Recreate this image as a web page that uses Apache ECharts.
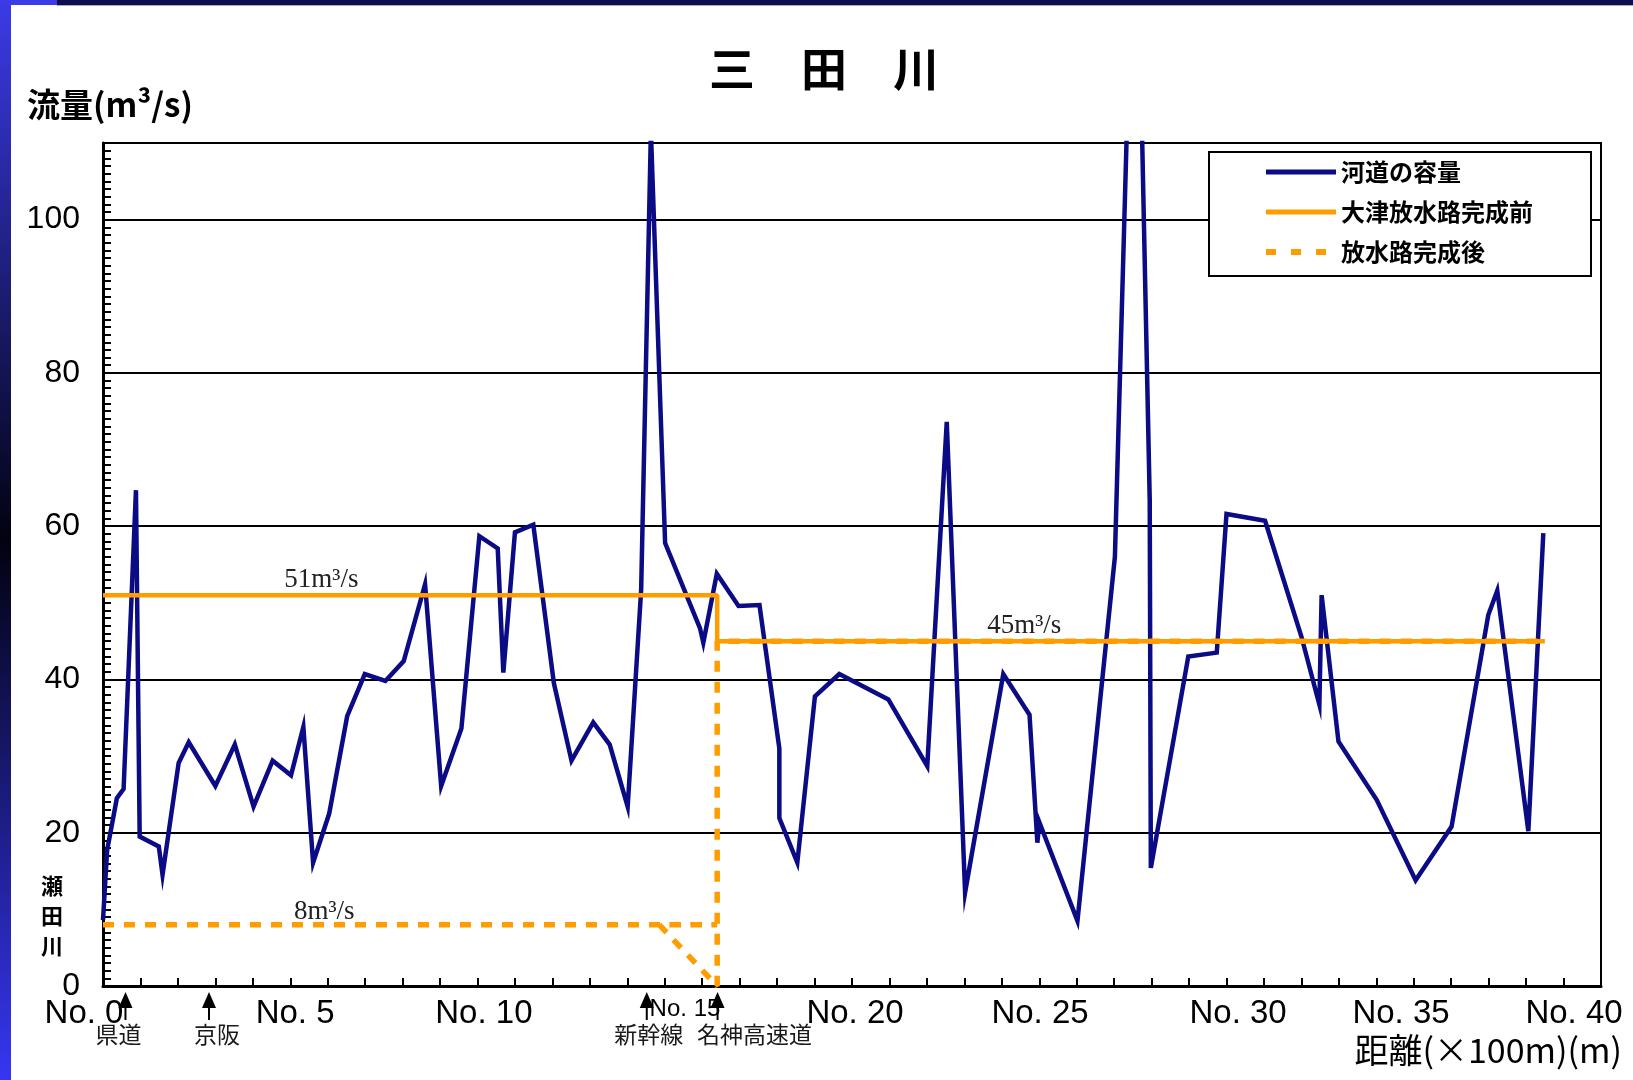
<!DOCTYPE html>
<html>
<head>
<meta charset="utf-8">
<script src="https://cdn.jsdelivr.net/npm/echarts@6/dist/echarts.min.js"></script>
<style>
  html, body { margin: 0; padding: 0; background: #fff; }
  #chart { width: 1633px; height: 1080px; }
</style>
</head>
<body>
<div id="chart"></div>
<script>
// Channel capacity of the 三田川 along its course.
// x: distance from the 瀬田川 confluence (×100 m), y: flow (m³/s)
const capacity = [
  [0, 8.6], [0.11, 17.7], [0.37, 24.5], [0.55, 25.7], [0.88, 64.7], [0.98, 19.5],
  [1.49, 18.2], [1.59, 14.5], [2.02, 29.1], [2.29, 31.8], [3.00, 26.1], [3.52, 31.5],
  [4.02, 23.4], [4.53, 29.4], [5.02, 27.5], [5.35, 33.8], [5.61, 16.1], [6.04, 22.5],
  [6.52, 35.2], [6.99, 40.7], [7.54, 39.8], [8.03, 42.4], [8.60, 52.4], [9.03, 26.1],
  [9.57, 33.6], [10.05, 58.7], [10.54, 57.1], [10.69, 40.9], [11.00, 59.2], [11.49, 60.2],
  [12.04, 39.5], [12.51, 29.4], [13.09, 34.4], [13.53, 31.5], [14.01, 23.4], [14.37, 51.7],
  [14.63, 111.5], [15.01, 57.8], [15.94, 46.7], [16.03, 44.8], [16.39, 53.8], [16.97, 49.6],
  [17.53, 49.7], [18.06, 31.0], [18.06, 21.9], [18.54, 16.1], [19.01, 37.8], [19.66, 40.7],
  [20.97, 37.4], [22.01, 28.7], [22.53, 73.6], [23.02, 12.2], [24.04, 40.7], [24.74, 35.4],
  [24.95, 18.7], [25.00, 21.4], [26.02, 8.5], [27.02, 56.0], [27.57, 152.0], [27.95, 63.4],
  [27.98, 15.4], [28.98, 43.0], [29.74, 43.5], [30.00, 61.6], [31.03, 60.7], [32.00, 45.6],
  [32.48, 36.7], [32.54, 51.0], [32.99, 31.9], [34.01, 24.3], [35.05, 13.8], [36.01, 20.8],
  [36.99, 48.4], [37.23, 51.6], [38.06, 20.2], [38.46, 59.1]
];

// Design flow before the 大津 outlet channel is finished
const beforeOutlet = [[0, 51], [16.4, 51], [16.4, 45], [38.5, 45]];
// Design flow after the outlet channel is finished
const afterOutlet = [[0, 8], [16.4, 8], [14.85, 8], [16.4, 0], [16.4, 45], [38.5, 45]];

// Flow notes written next to the design lines: [distance, flow]
const beforeNotes = [[5.83, 51], [24.6, 45]];
const afterNotes = [[5.91, 8]];

// Station names under the distance axis and where they sit
const stationLabels = ['No. 0', 'No. 5', 'No. 10', 'No. 15', 'No. 20', 'No. 25', 'No. 30', 'No. 35', 'No. 40'];
const stationAt = [0, 5.13, 10.17, 15.54, 20.08, 25.02, 30.31, 34.66, 39.28];

// Crossings marked with arrows under the axis
const landmarks = ['県道', '京阪', '新幹線', '名神高速道'];
const landmarkAt = [0.6, 2.83, 14.52, 16.41];

// Flow axis labels
const flowTicks = [0, 20, 40, 60, 80, 100];

const NAVY = '#0b0b85';
const ORANGE = '#ff9c00';
const CJK = "'Noto Sans CJK JP', 'Noto Sans', sans-serif";
const SANS = "'Liberation Sans', Arial, sans-serif";
const SERIF = "'Liberation Serif', 'DejaVu Serif', serif";

const chart = echarts.init(document.getElementById('chart'), null, { renderer: 'canvas' });

const stationStyle = { 'No. 0': 'first', 'No. 15': 'small' };

chart.setOption({
  animation: false,
  backgroundColor: '#ffffff',
  grid: {
    left: 103, top: 143, width: 1498, height: 843,
    show: true, borderColor: '#000', borderWidth: 2, backgroundColor: '#fff',
    containLabel: false, outerBoundsMode: 'none'
  },
  legend: {
    orient: 'vertical',
    left: 1209, top: 152,
    itemWidth: 70, itemHeight: 14, itemGap: 16,
    padding: [8, 58, 12, 54],
    backgroundColor: '#fff', borderColor: '#000', borderWidth: 2, borderRadius: 0,
    itemStyle: { opacity: 0, borderWidth: 0 },
    textStyle: { fontFamily: CJK, fontSize: 24, fontWeight: 'bold', color: '#000' },
    data: [
      { name: '河道の容量', lineStyle: { width: 5 } },
      { name: '大津放水路完成前', lineStyle: { width: 5 } },
      { name: '放水路完成後', lineStyle: { width: 6, type: [10, 15] } }
    ]
  },
  xAxis: {
    type: 'value', min: 0, max: 40, interval: 1,
    axisLine: { show: true, lineStyle: { color: '#000', width: 3 } },
    axisTick: { show: true, inside: true, length: 8, lineStyle: { color: '#000', width: 2 } },
    splitLine: { show: false },
    axisLabel: {
      customValues: stationAt,
      margin: 11,
      fontFamily: SANS, fontSize: 33, color: '#000',
      formatter: (v) => {
        const i = stationAt.findIndex((s) => Math.abs(s - v) < 1e-6);
        if (i < 0) return '';
        const key = stationStyle[stationLabels[i]];
        return key ? '{' + key + '|' + stationLabels[i] + '}' : stationLabels[i];
      },
      rich: {
        first: { fontFamily: SANS, fontSize: 33, color: '#000', padding: [0, 38, 0, 0] },
        small: { fontFamily: SANS, fontSize: 24, color: '#000' }
      }
    }
  },
  yAxis: [
    {
      type: 'value', min: 0, max: 110, interval: 10,
      name: '流量(m³/s)',
      nameLocation: 'end', nameGap: 22,
      nameTextStyle: {
        fontFamily: CJK, fontSize: 33, fontWeight: 'bold', color: '#000',
        align: 'center', padding: [0, 0, 0, 14]
      },
      axisLine: { show: true, lineStyle: { color: '#000', width: 3 } },
      axisTick: { show: true, inside: true, length: 8, lineStyle: { color: '#000', width: 2 } },
      minorTick: { show: true, splitNumber: 10, length: 8, lineStyle: { color: '#000', width: 2 } },
      splitLine: { show: false },
      axisLabel: {
        margin: 23, fontFamily: SANS, fontSize: 32, color: '#000',
        formatter: (v) => (flowTicks.indexOf(v) >= 0 ? String(v) : '')
      }
    },
    {
      type: 'value', min: 0, max: 110, interval: 20,
      axisLine: { show: false }, axisTick: { show: false }, axisLabel: { show: false },
      splitLine: { show: true, lineStyle: { color: '#000', width: 2 } }
    }
  ],
  series: [
    {
      name: '河道の容量', type: 'line', data: capacity,
      symbol: 'none', z: 3,
      lineStyle: { color: NAVY, width: 4.5, join: 'miter' },
      itemStyle: { color: NAVY }
    },
    {
      name: '大津放水路完成前', type: 'line', data: beforeOutlet,
      symbol: 'none', z: 4,
      lineStyle: { color: ORANGE, width: 4.5 },
      itemStyle: { color: ORANGE },
      markPoint: {
        symbol: 'circle', symbolSize: 1,
        itemStyle: { color: 'rgba(0,0,0,0)' },
        label: {
          show: true, position: 'top', distance: 1,
          fontFamily: SERIF, fontSize: 27, color: '#222',
          formatter: (p) => p.value + 'm³/s'
        },
        data: beforeNotes.map((c) => ({ coord: c, value: c[1] }))
      }
    },
    {
      name: '放水路完成後', type: 'line', data: afterOutlet,
      symbol: 'none', z: 5,
      lineStyle: { color: ORANGE, width: 5.5, type: [11, 10] },
      itemStyle: { color: ORANGE },
      markPoint: {
        symbol: 'circle', symbolSize: 1,
        itemStyle: { color: 'rgba(0,0,0,0)' },
        label: {
          show: true, position: 'top', distance: -1,
          fontFamily: SERIF, fontSize: 27, color: '#222',
          formatter: (p) => p.value + 'm³/s'
        },
        data: afterNotes.map((c) => ({ coord: c, value: c[1] }))
      }
    }
  ]
});

// Frame, title, axis caption and the crossing annotations, placed from the axes
const zeroY = chart.convertToPixel({ yAxisIndex: 0 }, 0);
const axisX = chart.convertToPixel({ xAxisIndex: 0 }, 0);
const axisEnd = chart.convertToPixel({ xAxisIndex: 0 }, 40);
const textShift = [-7, 8, 2, 37];
const graphics = [
  {
    type: 'rect', shape: { x: 0, y: 0, width: 11, height: 1080 }, z: 200,
    style: {
      fill: new echarts.graphic.LinearGradient(0, 0, 0, 1, [
        { offset: 0, color: '#3b3be8' },
        { offset: 0.5, color: '#020210' },
        { offset: 1, color: '#3636f2' }
      ])
    }
  },
  { type: 'rect', shape: { x: 0, y: 0, width: 57, height: 5 }, style: { fill: '#3b3be8' }, z: 200 },
  { type: 'rect', shape: { x: 57, y: 0, width: 1576, height: 5 }, style: { fill: '#0e0e4c' }, z: 200 },
  { type: 'rect', shape: { x: 57, y: 5, width: 1576, height: 1 }, style: { fill: '#a8a8c4' }, z: 200 },
  {
    type: 'text', z: 200,
    style: {
      text: '三　田　川', x: 824, y: 69, align: 'center', verticalAlign: 'middle',
      fontFamily: CJK, fontSize: 46, fontWeight: 'bold', fill: '#000'
    }
  },
  {
    type: 'text', z: 200,
    style: {
      text: '距離(×100m)(m)', x: axisEnd + 21, y: zeroY + 64, align: 'right', verticalAlign: 'middle',
      fontFamily: CJK, fontSize: 34, fill: '#000'
    }
  },
  {
    type: 'text', z: 200,
    style: {
      text: '瀬\n田\n川', x: axisX - 51, y: chart.convertToPixel({ yAxisIndex: 0 }, capacity[0][1]) - 4,
      align: 'center', verticalAlign: 'middle', lineHeight: 30,
      fontFamily: CJK, fontSize: 22, fontWeight: 'bold', fill: '#000'
    }
  }
];
landmarks.forEach((name, i) => {
  const px = chart.convertToPixel({ xAxisIndex: 0 }, landmarkAt[i]);
  graphics.push({
    type: 'polygon', z: 210,
    shape: { points: [[px, zeroY + 6], [px - 7, zeroY + 22], [px + 7, zeroY + 22]] },
    style: { fill: '#000' }
  });
  graphics.push({
    type: 'line', z: 210,
    shape: { x1: px, y1: zeroY + 18, x2: px, y2: zeroY + 34 },
    style: { stroke: '#000', lineWidth: 2 }
  });
  graphics.push({
    type: 'text', z: 210,
    style: {
      text: name, x: px + textShift[i], y: zeroY + 37, align: 'center', verticalAlign: 'top',
      fontFamily: CJK, fontSize: 23, fill: '#1a1a1a'
    }
  });
});
chart.setOption({ graphic: graphics });
</script>
</body>
</html>
